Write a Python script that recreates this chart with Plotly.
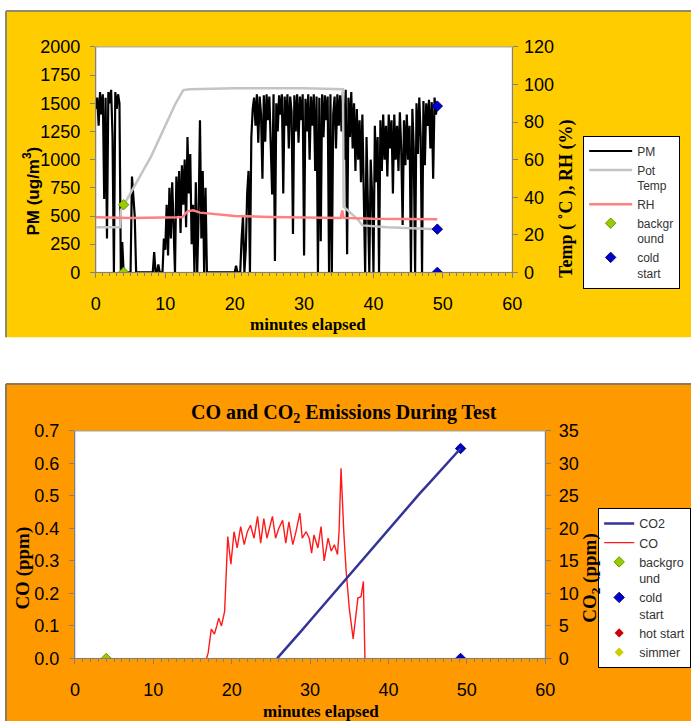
import plotly.graph_objects as go

# figure size and screenshot mapping compensation (render = O + S * layout)
W, H = 701, 731
OX, SX = 4.0, 0.98
OY, SY = 8.0, 0.975


def px(x):
    return ((x - OX) / SX) / W


def py(y):
    return 1 - ((y - OY) / SY) / H


# ---------------- Top panel data ----------------
pm_start_min = 0.0
pm_step_min = 0.2
pm_values = [
    1450, 1550, 1300, 1600, 1400,   # 0
    1580, 650, 1550, 300, 1600,     # 1
    1500, 1620, 1200, 0, 1600,      # 2
    1450, 1580, 1500, 0, 270,       # 3
    0, 0, 0, 0, 0,                  # 4
    0, 850, 700, 500, 0,            # 5
    0, 0, 0, 0, 0,                  # 6
    0, 0, 0, 0, 0,                  # 7
    0, 0, 180, 0, 0,                # 8
    70, 0, 0, 0, 300,               # 9
    200, 600, 150, 750, 300,        # 10
    800, 400, 0, 850, 500,          # 11
    900, 350, 950, 600, 1000,       # 12
    400, 1200, 700, 1050, 250,      # 13
    600, 0, 800, 0, 500,            # 14
    1350, 300, 900, 0, 750,         # 15
    0, 0, 0, 0, 0,                  # 16
    0, 0, 0, 0, 0,                  # 17
    0, 0, 0, 0, 0,                  # 18
    0, 0, 0, 0, 0,                  # 19
    0, 60, 0, 0, 0,                 # 20
    300, 500, 0, 200, 700,          # 21
    900, 0, 1200, 1450, 1550,       # 22
    1300, 1580, 1150, 1560, 1400,   # 23
    830, 1570, 1160, 1580, 1350,    # 24
    1560, 1200, 690, 1580, 100,     # 25
    1500, 1250, 1570, 1400, 1580,   # 26
    700, 1560, 1300, 1580, 1100,    # 27
    1560, 1420, 340, 1570, 1250,    # 28
    1580, 1150, 1560, 1350, 1580,   # 29
    150, 1540, 1250, 1580, 1000,    # 30
    1560, 1300, 1580, 900, 1560,    # 31
    0, 1550, 275, 1580, 1200,       # 32
    1570, 1350, 1560, 0, 1580,      # 33
    0, 1400, 1560, 1100, 1580,      # 34
    1300, 1570, 1250, 1600, 1000,   # 35
    1620, 160, 1550, 1200, 1600,    # 36
    1100, 1500, 900, 1450, 1000,    # 37
    1350, 800, 1400, 600, 0,        # 38
    1200, 500, 0, 1000, 700,        # 39
    0, 1300, 800, 1200, 0,          # 40
    1350, 900, 1400, 1000, 1300,    # 41
    850, 1400, 1100, 1350, 700,     # 42
    1400, 1000, 1300, 900, 1420,    # 43
    1100, 420, 1350, 950, 1400,     # 44
    1000, 1300, 0, 1450, 1100,      # 45
    0, 1500, 1050, 1550, 1200,      # 46
    0, 1520, 950, 1500, 1300,       # 47
    1530, 1100, 1510, 830, 1550,    # 48
    1400, 1500,                     # 49
]
pm_minutes = [round(pm_start_min + i * pm_step_min, 1) for i in range(len(pm_values))]

pot_minutes = [0, 3.5, 3.6, 5, 8, 10, 11.5, 12.6, 13.5, 20, 30, 35.6, 35.7, 37.8, 38.4, 42, 49.2]
pot_temp = [24, 24, 33, 42, 62, 78, 90, 97, 97.5, 98, 98, 97.5, 35, 28, 25, 24, 23]

rh_minutes = [0, 5, 12, 12.5, 13.2, 14, 15, 17, 20, 25, 30, 35.3, 35.5, 35.7, 40, 49.2]
rh_values = [29.3, 29, 29.3, 29.5, 32.5, 33, 31.8, 31, 30, 29.5, 29.2, 29, 33, 29, 28.5, 28.3]

bg_top_minutes = [4, 4]
bg_top_values = [36, 0]
cold_top_minutes = [49.2, 49.2, 49.2]
cold_top_values = [88.5, 23, 0]

# ---------------- Bottom panel data ----------------
co2_minutes = [25.8, 27, 28, 29, 30, 31, 32, 33, 34, 35, 36, 37, 38, 39, 40,
               41, 42, 43, 44, 45, 46, 47, 48, 49.2]
co2_values = [0, 1.6, 3.0, 4.4, 5.8, 7.2, 8.6, 10.0, 11.4, 12.9, 14.3, 15.7, 17.1,
              18.5, 19.9, 21.3, 22.6, 24.0, 25.4, 26.7, 28.0, 29.3, 30.7, 32.3]

co_minutes = [16.8, 17.0, 17.4, 17.8, 18.1, 18.35, 18.7, 19.1, 19.5, 19.9, 20.3, 20.7,
              21.15, 21.6, 22.0, 22.4, 22.85, 23.3, 23.7, 24.1, 24.5, 25.2, 25.6, 26.0,
              26.5, 26.9, 27.3, 27.8, 28.2, 28.7, 29.0, 29.5, 29.9, 30.2, 30.5, 31.0,
              31.4, 31.8, 32.3, 32.7, 33.1, 33.5, 33.7, 33.95, 34.3, 34.6, 35.0, 35.5,
              36.1, 36.5, 36.8, 37.0]
co_values = [0, 0.017, 0.09, 0.075, 0.1, 0.124, 0.1, 0.145, 0.375, 0.29, 0.39, 0.34,
             0.406, 0.35, 0.39, 0.41, 0.37, 0.437, 0.355, 0.43, 0.37, 0.437, 0.37, 0.40,
             0.425, 0.355, 0.42, 0.35, 0.39, 0.447, 0.37, 0.39, 0.37, 0.324, 0.38, 0.34,
             0.406, 0.30, 0.37, 0.33, 0.35, 0.32, 0.39, 0.585, 0.39, 0.27, 0.155, 0.06,
             0.186, 0.19, 0.237, 0]

bg_bot_minutes = [4]
bg_bot_values = [0]
cold_bot_minutes = [49.2, 49.2]
cold_bot_values = [0.646, 0]

# ---------------- Styling ----------------
SANS = "Liberation Sans, Arial, sans-serif"
SERIF = "Liberation Serif, Times New Roman, serif"
AXIS_GRAY = "#808080"
tickfont = dict(family=SANS, size=18, color="black")
legfont_top = dict(family=SANS, size=12, color="#333333")
legfont_bot = dict(family=SANS, size=12.5, color="#333333")

fig = go.Figure()

# top panel traces
fig.add_trace(go.Scatter(x=pm_minutes, y=pm_values, mode="lines", name="PM",
                         line=dict(color="black", width=2.2), xaxis="x", yaxis="y",
                         legend="legend"))
fig.add_trace(go.Scatter(x=pot_minutes, y=pot_temp, mode="lines", name="Pot<br>Temp",
                         line=dict(color="#C4C4C4", width=2.5), xaxis="x", yaxis="y2",
                         legend="legend"))
fig.add_trace(go.Scatter(x=rh_minutes, y=rh_values, mode="lines", name="RH",
                         line=dict(color="#FF8080", width=2.5), xaxis="x", yaxis="y2",
                         legend="legend"))
fig.add_trace(go.Scatter(x=bg_top_minutes, y=bg_top_values, mode="markers", name="backgr<br>ound",
                         marker=dict(symbol="diamond", size=8, color="#99CC00",
                                     line=dict(color="#669900", width=1)),
                         xaxis="x", yaxis="y2", legend="legend"))
fig.add_trace(go.Scatter(x=cold_top_minutes, y=cold_top_values, mode="markers", name="cold<br>start",
                         marker=dict(symbol="diamond", size=8, color="#0000CC",
                                     line=dict(color="#000080", width=1)),
                         xaxis="x", yaxis="y2", legend="legend"))

# bottom panel traces
fig.add_trace(go.Scatter(x=co2_minutes, y=co2_values, mode="lines", name="CO2",
                         line=dict(color="#333399", width=2.5), xaxis="x2", yaxis="y4",
                         legend="legend2"))
fig.add_trace(go.Scatter(x=co_minutes, y=co_values, mode="lines", name="CO",
                         line=dict(color="#FF1A1A", width=1.4), xaxis="x2", yaxis="y3",
                         legend="legend2"))
fig.add_trace(go.Scatter(x=bg_bot_minutes, y=bg_bot_values, mode="markers", name="backgro<br>und",
                         marker=dict(symbol="diamond", size=8, color="#99CC00",
                                     line=dict(color="#669900", width=1)),
                         xaxis="x2", yaxis="y3", legend="legend2"))
fig.add_trace(go.Scatter(x=cold_bot_minutes, y=cold_bot_values, mode="markers", name="cold<br>start",
                         marker=dict(symbol="diamond", size=8, color="#0000CC",
                                     line=dict(color="#000080", width=1)),
                         xaxis="x2", yaxis="y3", legend="legend2"))
fig.add_trace(go.Scatter(x=[None], y=[None], mode="markers", name="hot start",
                         marker=dict(symbol="diamond", size=7, color="#CC0000"),
                         xaxis="x2", yaxis="y3", legend="legend2"))
fig.add_trace(go.Scatter(x=[None], y=[None], mode="markers", name="simmer",
                         marker=dict(symbol="diamond", size=7, color="#CCCC00"),
                         xaxis="x2", yaxis="y3", legend="legend2"))

# backgrounds (paper shapes, drawn in order)
X_RIGHT = px(691)
Y_BOTTOM = py(721)
shapes = [
    dict(type="rect", xref="paper", yref="paper", x0=px(5), x1=X_RIGHT, y0=py(336), y1=py(9),
         fillcolor="#FFCC00", line=dict(width=0), layer="below"),
    dict(type="line", xref="paper", yref="paper", x0=px(5), x1=X_RIGHT, y0=py(9), y1=py(9),
         line=dict(color="#8C8C6A", width=2), layer="below"),
    dict(type="line", xref="paper", yref="paper", x0=px(5), x1=px(5), y0=py(336), y1=py(9),
         line=dict(color="#8C8C6A", width=2), layer="below"),
    dict(type="rect", xref="paper", yref="paper", x0=px(5), x1=X_RIGHT, y0=Y_BOTTOM, y1=py(383),
         fillcolor="#FF9900", line=dict(width=0), layer="below"),
    dict(type="line", xref="paper", yref="paper", x0=px(5), x1=X_RIGHT, y0=py(383), y1=py(383),
         line=dict(color="#8C7A5A", width=2), layer="below"),
    dict(type="line", xref="paper", yref="paper", x0=px(5), x1=px(5), y0=Y_BOTTOM, y1=py(383),
         line=dict(color="#8C7A5A", width=2), layer="below"),
    dict(type="rect", xref="paper", yref="paper", x0=px(95), x1=px(512), y0=py(271), y1=py(45),
         fillcolor="white", line=dict(color="#A0A0A0", width=1), layer="below"),
    dict(type="rect", xref="paper", yref="paper", x0=px(74), x1=px(545), y0=py(658), y1=py(430),
         fillcolor="white", line=dict(color="#A0A0A0", width=1), layer="below"),
]

serif_bold = dict(family=SERIF, size=17, color="black", weight="bold")
annotations = [
    dict(text="PM (ug/m<sup>3</sup>)", x=px(30), y=py(189), textangle=-90,
         font=dict(family=SANS, size=17, color="black", weight="bold")),
    dict(text="Temp ( ˚C ), RH (%)", x=px(566), y=py(197), textangle=-90,
         font=dict(family=SERIF, size=18, color="black", weight="bold")),
    dict(text="minutes elapsed", x=px(307), y=py(323), font=serif_bold),
    dict(text="CO and CO<sub>2</sub> Emissions During Test", x=px(343), y=py(412),
         font=dict(family=SERIF, size=20, color="black", weight="bold")),
    dict(text="CO (ppm)", x=px(22), y=py(567), textangle=-90,
         font=dict(family=SERIF, size=19, color="black", weight="bold")),
    dict(text="CO<sub>2</sub> (ppm)", x=px(590), y=py(577), textangle=-90,
         font=dict(family=SERIF, size=19, color="black", weight="bold")),
    dict(text="minutes elapsed", x=px(320), y=py(711), font=serif_bold),
]
for a in annotations:
    a.update(xref="paper", yref="paper", xanchor="center", yanchor="middle", showarrow=False)

common_x = dict(range=[0, 60], dtick=10, ticks="outside", ticklen=5, tickcolor=AXIS_GRAY,
                showline=True, linecolor=AXIS_GRAY, linewidth=1, showgrid=False, zeroline=False,
                tickfont=tickfont, ticklabelstandoff=10,
                minor=dict(dtick=1, ticks="outside", ticklen=3, tickcolor=AXIS_GRAY, showgrid=False))
common_y = dict(ticks="outside", ticklen=5, tickcolor=AXIS_GRAY, showline=True,
                linecolor=AXIS_GRAY, linewidth=1, showgrid=False, zeroline=False,
                tickfont=tickfont)

fig.update_layout(
    width=W, height=H, margin=dict(l=0, r=0, t=0, b=0),
    paper_bgcolor="white", plot_bgcolor="white",
    shapes=shapes, annotations=annotations,
    xaxis=dict(domain=[px(95), px(512)], anchor="y", **common_x),
    yaxis=dict(domain=[py(271), py(45)], range=[0, 2000], dtick=250, anchor="x",
               ticklabelstandoff=6, **common_y),
    yaxis2=dict(overlaying="y", side="right", range=[0, 120], dtick=20, anchor="x",
                ticklabelstandoff=2, **common_y),
    xaxis2=dict(domain=[px(74), px(545)], anchor="y3", **common_x),
    yaxis3=dict(domain=[py(658), py(430)], range=[0, 0.7], dtick=0.1, tickformat=".1f",
                anchor="x2", ticklabelstandoff=6, **common_y),
    yaxis4=dict(overlaying="y3", side="right", range=[0, 35], dtick=5, anchor="x2",
                ticklabelstandoff=4, **common_y),
    legend=dict(x=px(583), y=py(134), xanchor="left", yanchor="top", bgcolor="white",
                bordercolor="black", borderwidth=1, font=legfont_top, itemwidth=43,
                tracegroupgap=0, valign="top"),
    legend2=dict(x=px(598), y=py(507), xanchor="left", yanchor="top", bgcolor="white",
                 bordercolor="black", borderwidth=1, font=legfont_bot, itemwidth=30,
                 tracegroupgap=0, valign="top"),
    showlegend=True,
)

fig.write_html("out.html", config={"displayModeBar": False},
               post_script="document.body.style.margin='0';document.body.style.padding='0';")
